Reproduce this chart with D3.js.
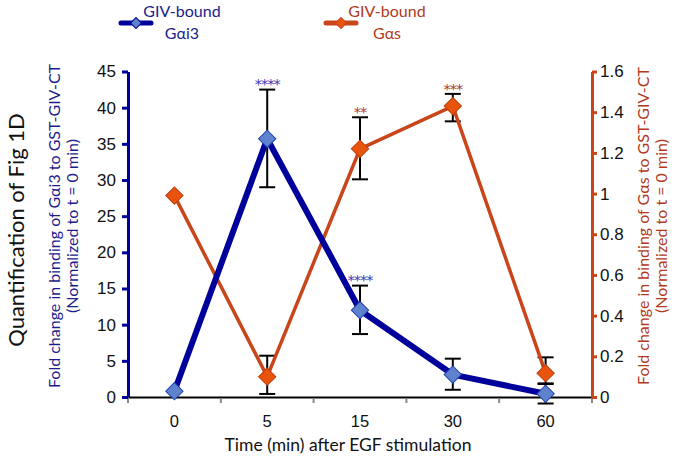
<!DOCTYPE html>
<html><head><meta charset="utf-8">
<script src="https://cdn.jsdelivr.net/npm/d3@7"></script>
<style>body{margin:0;background:#fff}svg{display:block;font-family:Lato,"Open Sans",sans-serif}</style>
</head><body><svg id="c" width="677" height="458"></svg>
<script>
const categories = ["0","5","15","30","60"];
const gai3 = [0.8, 35.7, 12.0, 3.1, 0.45];
const gai3Lo = [0.8, 29.0, 8.7, 1.0, -0.9];
const gai3Hi = [0.8, 42.5, 15.4, 5.3, 1.8];
const gas = [0.99, 0.10, 1.22, 1.43, 0.117];
const gasLo = [0.99, 0.015, 1.07, 1.355, 0.067];
const gasHi = [0.99, 0.203, 1.375, 1.49, 0.195];
const gai3Stars = ["", "****", "****", "", ""];
const gasStars = ["", "", "**", "***", ""];
const leftTicks = [0,5,10,15,20,25,30,35,40,45];
const rightTicks = [0,0.2,0.4,0.6,0.8,1,1.2,1.4,1.6];

const BLUE = "#00009a", BLUEFILL = "#5e82cc", ORANGE = "#c8461a", OFILL = "#e8530e";
const svg = d3.select("#c");
const L = 128, R = 592, T = 71.5, B = 397;
const x = d3.scaleBand().domain(categories).range([L, R]);
const yl = d3.scaleLinear().domain([0,45]).range([B, T]);
const yr = d3.scaleLinear().domain([0,1.6]).range([B, T]);
const cx = d => x(d) + x.bandwidth()/2;

// x axis
const xa = svg.append("g").attr("transform", `translate(0,${B})`)
  .call(d3.axisBottom(x).tickSize(0).tickPadding(18));
xa.select(".domain").attr("stroke", "#000").attr("stroke-width", 2);
xa.selectAll("text").attr("font-size", 16.5).attr("fill", "#111");
svg.append("g").selectAll("line").data(d3.range(6)).join("line")
  .attr("x1", i => L + i*x.bandwidth()).attr("x2", i => L + i*x.bandwidth())
  .attr("y1", B+1).attr("y2", B+6).attr("stroke", "#888").attr("stroke-width", 2);

// left axis
const la = svg.append("g").attr("transform", `translate(${L},0)`)
  .call(d3.axisLeft(yl).tickValues(leftTicks).tickSize(6).tickPadding(6).tickSizeOuter(0));
la.select(".domain").attr("stroke", BLUE).attr("stroke-width", 3);
la.selectAll(".tick line").attr("stroke", BLUE).attr("stroke-width", 3);
la.selectAll("text").attr("font-size", 17).attr("fill", "#111");

// right axis
const ra = svg.append("g").attr("transform", `translate(${R},0)`)
  .call(d3.axisRight(yr).tickValues(rightTicks).tickFormat(d3.format("~g")).tickSize(5).tickPadding(3).tickSizeOuter(0));
ra.select(".domain").attr("stroke", ORANGE).attr("stroke-width", 3);
ra.selectAll(".tick line").attr("stroke", ORANGE).attr("stroke-width", 3);
ra.selectAll("text").attr("font-size", 17).attr("fill", "#111");

// error bars
function errBars(lo, hi, y) {
  const g = svg.append("g").attr("stroke", "#000").attr("stroke-width", 2);
  categories.forEach((c, i) => {
    if (hi[i] === lo[i]) return;
    const X = cx(c);
    g.append("line").attr("x1", X).attr("x2", X).attr("y1", y(lo[i])).attr("y2", y(hi[i]));
    [lo[i], hi[i]].forEach(v => g.append("line").attr("x1", X-8).attr("x2", X+8).attr("y1", y(v)).attr("y2", y(v)));
  });
}
errBars(gai3Lo, gai3Hi, yl);
errBars(gasLo, gasHi, yr);

const sym = d3.symbol().type(d3.symbolSquare);
// orange series
svg.append("path").datum(gas).attr("fill", "none").attr("stroke", ORANGE).attr("stroke-width", 3.5)
  .attr("d", d3.line().x((d,i) => cx(categories[i])).y(d => yr(d)));
svg.append("g").selectAll("path").data(gas).join("path")
  .attr("d", sym.size(150)).attr("fill", OFILL).attr("stroke", "#c04010").attr("stroke-width", 1)
  .attr("transform", (d,i) => `translate(${cx(categories[i])},${yr(d)}) rotate(45)`);
// blue series
svg.append("path").datum(gai3).attr("fill", "none").attr("stroke", BLUE).attr("stroke-width", 6)
  .attr("stroke-linejoin", "round")
  .attr("d", d3.line().x((d,i) => cx(categories[i])).y(d => yl(d)));
svg.append("g").selectAll("path").data(gai3).join("path")
  .attr("d", sym.size(150)).attr("fill", BLUEFILL).attr("stroke", "#2040b0").attr("stroke-width", 1)
  .attr("transform", (d,i) => `translate(${cx(categories[i])},${yl(d)}) rotate(45)`);

// significance stars
svg.append("g").selectAll("text").data(gai3Stars).join("text")
  .attr("x", (d,i) => cx(categories[i])).attr("y", (d,i) => yl(gai3Hi[i]) - 1)
  .attr("text-anchor", "middle").attr("font-family", "DejaVu Sans").attr("font-size", 14.5)
  .attr("letter-spacing", -1).attr("fill", "#3838b0").text(d => d);
svg.append("g").selectAll("text").data(gasStars).join("text")
  .attr("x", (d,i) => cx(categories[i])).attr("y", (d,i) => yr(gasHi[i]))
  .attr("text-anchor", "middle").attr("font-family", "DejaVu Sans").attr("font-size", 14.5)
  .attr("letter-spacing", -1).attr("fill", "#a83a30").text(d => d);

// axis titles
svg.append("text").attr("x", 348).attr("y", 451).attr("text-anchor", "middle")
  .attr("font-size", 17.5).attr("fill", "#111").text("Time (min) after EGF stimulation");
svg.append("text").attr("transform", "translate(24,230) rotate(-90)").attr("text-anchor", "middle")
  .attr("font-size", 22).attr("fill", "#111").text("Quantification of Fig 1D");
const lt = svg.append("text").attr("transform", "translate(60,226) rotate(-90)").attr("text-anchor", "middle")
  .attr("font-size", 16).attr("fill", "#1c1c8c");
lt.append("tspan").attr("x", 0).attr("dy", 0).text("Fold change in binding of G\u03b1i3 to GST-GIV-CT");
lt.append("tspan").attr("x", 0).attr("dy", 18).text("(Normalized to t = 0 min)");
const rt = svg.append("text").attr("transform", "translate(649,226) rotate(-90)").attr("text-anchor", "middle")
  .attr("font-size", 16).attr("fill", "#b23a1c");
rt.append("tspan").attr("x", 0).attr("dy", 0).text("Fold change in binding of G\u03b1s to GST-GIV-CT");
rt.append("tspan").attr("x", 0).attr("dy", 18).text("(Normalized to t = 0 min)");

// legend
function legend(x0, color, fill, w, lines, tcolor) {
  const g = svg.append("g");
  g.append("line").attr("x1", x0).attr("x2", x0+30).attr("y1", 23).attr("y2", 23)
    .attr("stroke", color).attr("stroke-width", w).attr("stroke-linecap", "round");
  g.append("path").attr("d", d3.symbol().type(d3.symbolSquare).size(60)())
    .attr("transform", `translate(${x0+15},23) rotate(45)`).attr("fill", fill).attr("stroke", color);
  const t = g.append("text").attr("text-anchor", "middle").attr("font-size", 16).attr("fill", tcolor);
  t.append("tspan").attr("x", x0+61).attr("y", 17).text(lines[0]);
  t.append("tspan").attr("x", x0+61).attr("y", 39).text(lines[1]);
}
legend(121, BLUE, BLUEFILL, 5, ["GIV-bound", "G\u03b1i3"], "#1c1c8c");
legend(326, ORANGE, OFILL, 5, ["GIV-bound", "G\u03b1s"], "#b23a1c");
</script></body></html>
